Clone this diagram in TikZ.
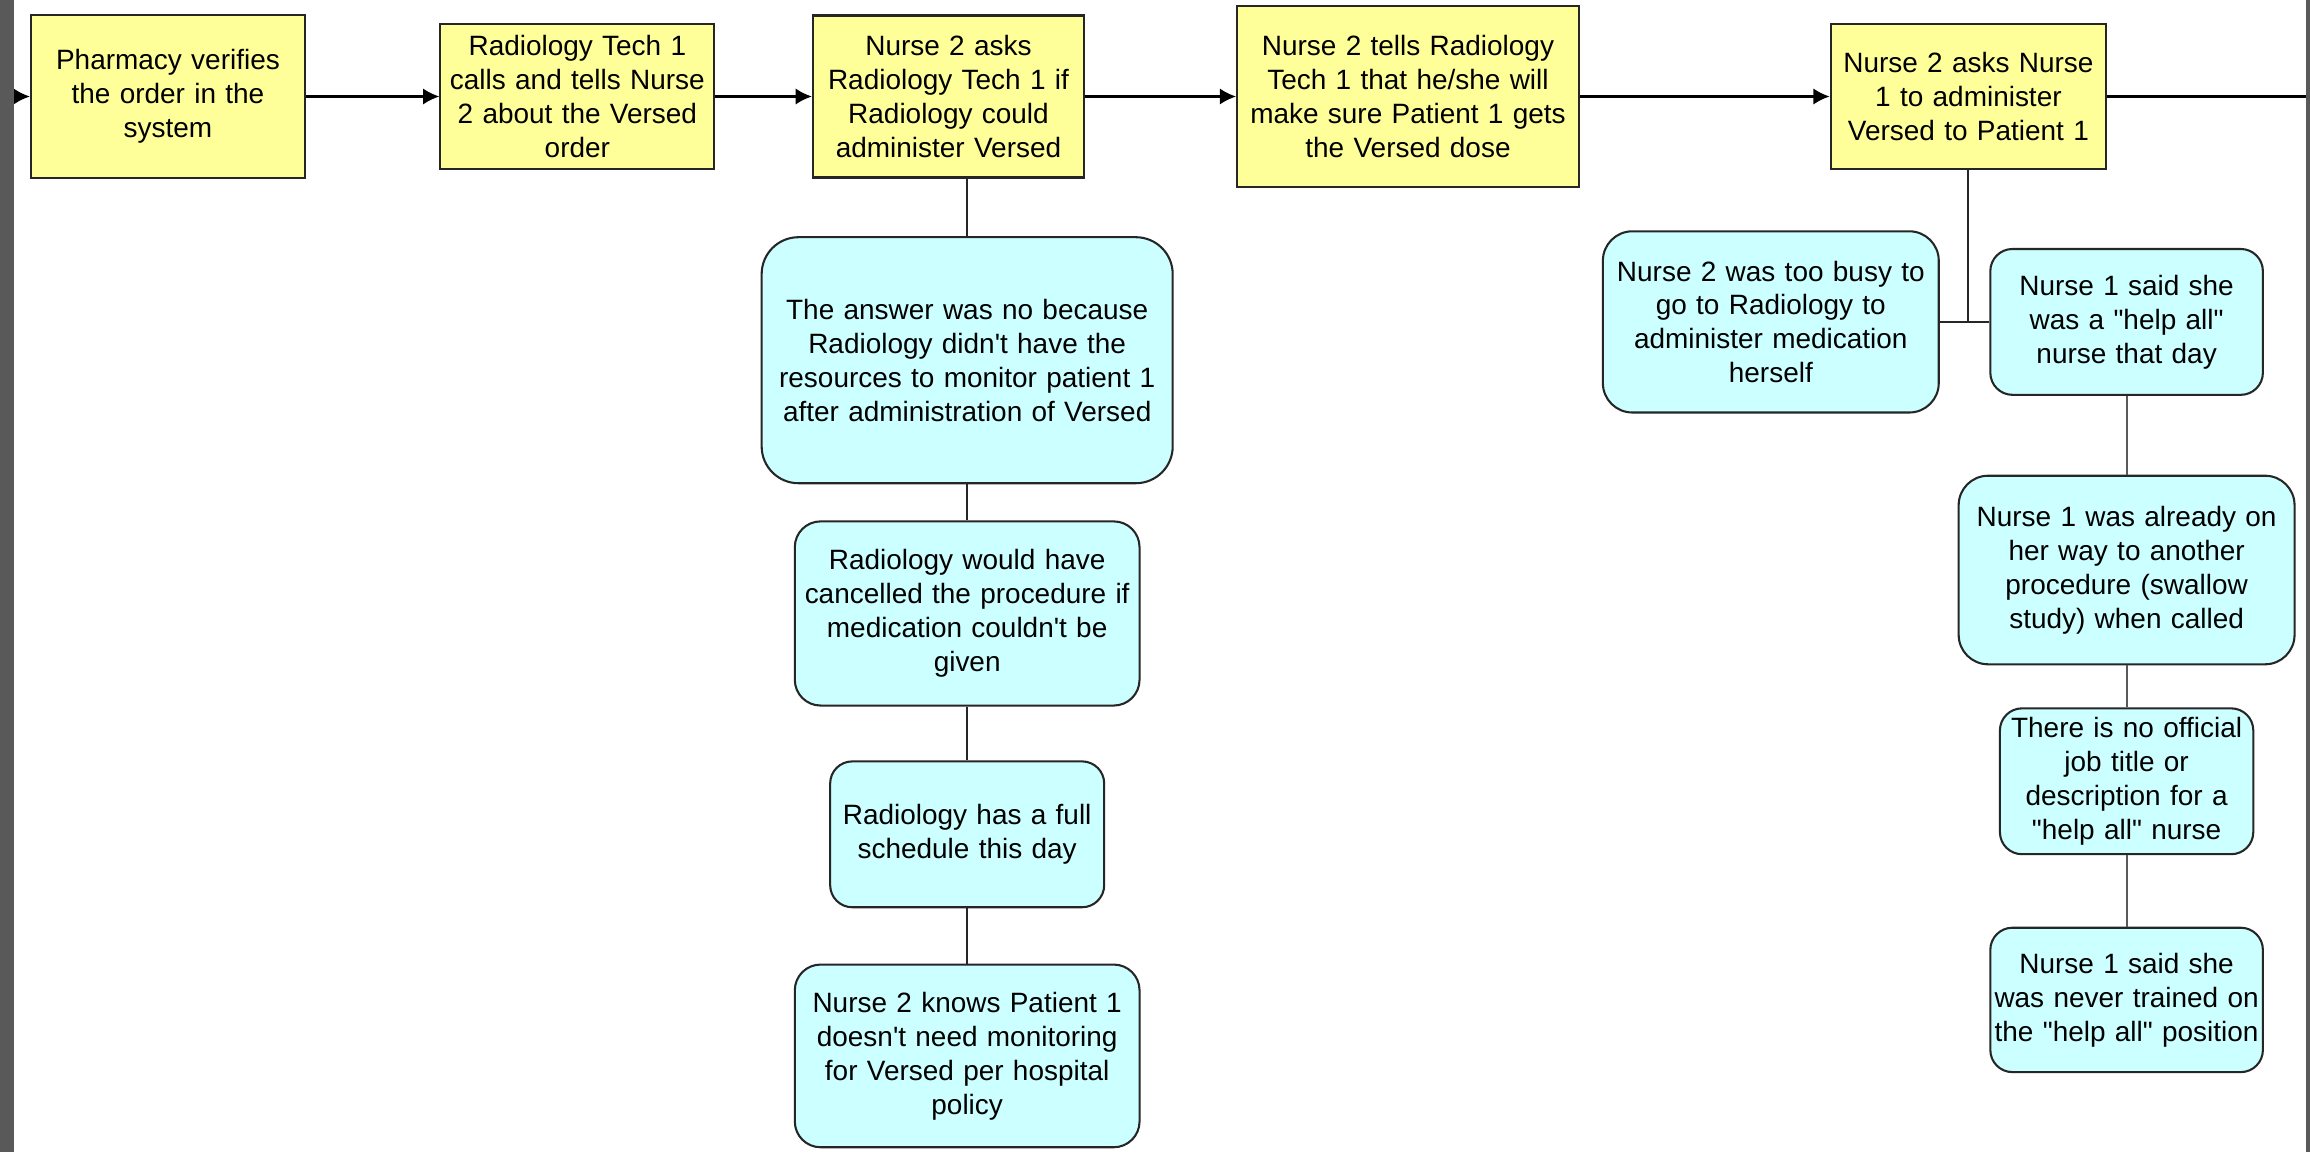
\documentclass[tikz,border=0pt]{standalone}
\usepackage{fontspec}
\setmainfont{Liberation Sans}[Ligatures=TeXOff]
\usepackage{tikz}
\usetikzlibrary{positioning, arrows.meta}
\definecolor{eventyellow}{HTML}{FFFF99}
\definecolor{causeblue}{HTML}{CCFFFF}
\definecolor{framegray}{HTML}{595959}
\tikzset{event node/.style={rectangle, draw=black!85, fill=eventyellow, align=center, inner sep=0pt, font=\fontsize{10.8}{13.1}\selectfont},
cause node/.style={rectangle, rounded corners=0.3cm, draw=black!85, fill=causeblue, align=center, inner sep=0pt, font=\fontsize{10.8}{13.1}\selectfont},}

\begin{document}
\begin{tikzpicture}[->, >={Latex[length=0.22cm, width=0.22cm]}, thick]
        \useasboundingbox (0,0) rectangle (31.36,-15.64);
        \fill[white] (0,0) rectangle (31.36,-15.64);
        % Nodes
        \node[event node] (1) [text width=3.72cm, minimum height=2.22cm] at (2.28,-1.31) {Pharmacy verifies\\the order in the\\system};
        \node[event node] [right = 1.81cm of 1, text width=3.72cm, minimum height=1.98cm] (2) {Radiology Tech 1\\calls and tells Nurse\\2 about the Versed\\order};
        \node[event node] [right = 1.31cm of 2, text width=3.68cm, minimum height=2.20cm] (3) {Nurse 2 asks\\Radiology Tech 1 if\\Radiology could\\administer Versed};
        \node[event node] [right = 2.05cm of 3, text width=4.64cm, minimum height=2.46cm] (4) {Nurse 2 tells Radiology\\Tech 1 that he/she will\\make sure Patient 1 gets\\the Versed dose};
        \node[event node] [right = 3.39cm of 4, text width=3.74cm, minimum height=1.98cm] (5) {Nurse 2 asks Nurse\\1 to administer\\Versed to Patient 1};
        \coordinate (in) at (0,-1.31);
        \coordinate (out) at (31.30,-1.31);
        % Causes under step 3
        \node[cause node] (answer) [text width=5.58cm, minimum height=3.34cm, rounded corners=0.5cm] at (13.13,-4.89) {The answer was no because\\Radiology didn't have the\\resources to monitor patient 1\\after administration of Versed};
        \node[cause node] [below = 0.49cm of answer, text width=4.68cm, minimum height=2.50cm, rounded corners=0.35cm] (cancel) {Radiology would have\\cancelled the procedure if\\medication couldn't be\\given};
        \node[cause node] [below = 0.73cm of cancel, text width=3.72cm, minimum height=1.98cm] (schedule) {Radiology has a full\\schedule this day};
        \node[cause node] [below = 0.75cm of schedule, text width=4.68cm, minimum height=2.48cm, rounded corners=0.35cm] (policy) {Nurse 2 knows Patient 1\\doesn't need monitoring\\for Versed per hospital\\policy};
        % Causes under step 5
        \node[cause node] (busy) [text width=4.56cm, minimum height=2.46cm, rounded corners=0.4cm] at (24.04,-4.37) {Nurse 2 was too busy to\\go to Radiology to\\administer medication\\herself};
        \node[cause node] (helpall) [text width=3.70cm, minimum height=1.98cm] at (28.87,-4.37) {Nurse 1 said she\\was a "help all"\\nurse that day};
        \node[cause node] [below = 1.07cm of helpall, text width=4.56cm, minimum height=2.56cm, rounded corners=0.4cm] (onway) {Nurse 1 was already on\\her way to another\\procedure (swallow\\study) when called};
        \node[cause node] [below = 0.57cm of onway, text width=3.44cm, minimum height=1.98cm] (notitle) {There is no official\\job title or\\description for a\\"help all" nurse};
        \node[cause node] [below = 0.97cm of notitle, text width=3.70cm, minimum height=1.96cm] (untrained) {Nurse 1 said she\\was never trained on\\the "help all" position};
        % Paths
        \path[draw]
        (in) edge (1)
        (1) edge (2)
        (2) edge (3)
        (3) edge (4)
        (4) edge (5)
        (5) edge [-] (out);
        \path[draw, -, black!85]
        (answer.north) edge (answer.north |- 3.south)
        (answer) edge (cancel)
        (cancel) edge (schedule)
        (schedule) edge (policy)
        (5.south) edge (5.south |- busy.east)
        (busy) edge (helpall);
        \path[draw, -, black!65]
        (helpall) edge (onway)
        (onway) edge (notitle)
        (notitle) edge (untrained);
        % Window frame
        \fill[framegray] (0,0) rectangle (0.19,-15.64);
        \fill[framegray] (31.30,0) rectangle (31.36,-15.64);
    \end{tikzpicture}
\end{document}
